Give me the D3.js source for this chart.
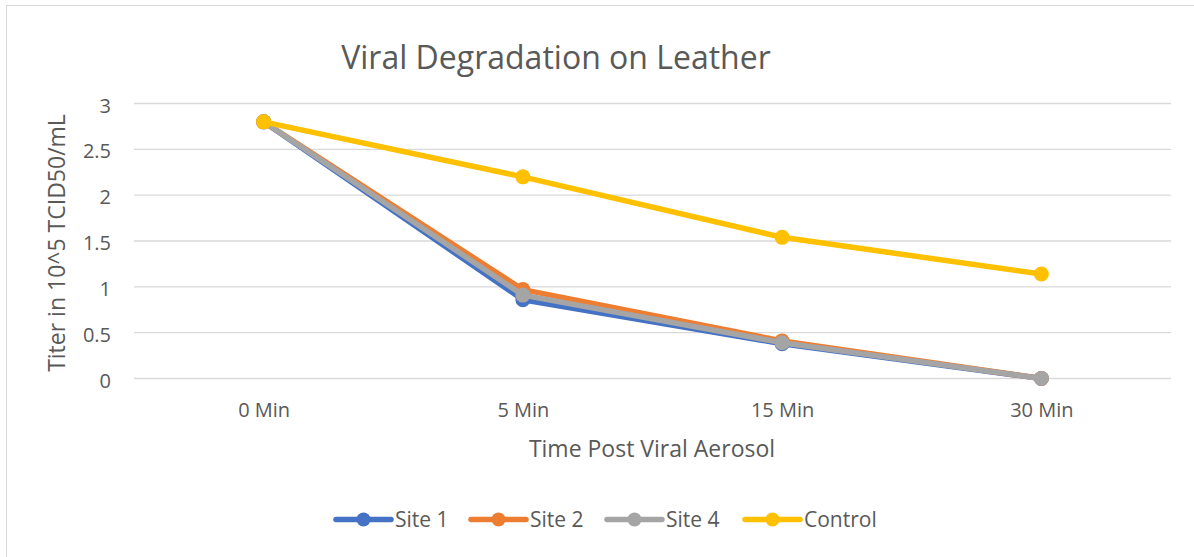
<!DOCTYPE html>
<html>
<head>
<meta charset="utf-8">
<script src="https://cdn.jsdelivr.net/npm/d3@7"></script>
<style>
  body { margin: 0; background: #fff; }
  svg { display: block; font-family: "Open Sans", "Noto Sans", sans-serif; }
</style>
</head>
<body>
<svg width="1194" height="557"></svg>
<script>
// chart data
const categories = ["0 Min", "5 Min", "15 Min", "30 Min"];
const seriesNames = ["Site 1", "Site 2", "Site 4", "Control"];
const site1 = [2.8, 0.86, 0.38, 0];
const site2 = [2.8, 0.97, 0.41, 0];
const site4 = [2.8, 0.91, 0.39, 0];
const control = [2.8, 2.2, 1.54, 1.14];
const yTicks = [0, 0.5, 1, 1.5, 2, 2.5, 3];
const colors = ["#4472c4", "#ed7d31", "#a5a5a5", "#ffc000"];

const svg = d3.select("svg");
const textColor = "#595959";
const fontFamily = '"Open Sans", "Noto Sans", sans-serif';

// plot area
const plotLeft = 134, plotRight = 1171, plotTop = 103.5, plotBottom = 378.5;

// outer border (only left/top visible in the reference)
svg.append("rect")
    .attr("x", 6.5).attr("y", 5.5)
    .attr("width", 1200).attr("height", 600)
    .attr("fill", "none")
    .attr("stroke", "#d9d9d9");

const xScale = d3.scalePoint()
    .domain(categories)
    .range([plotLeft, plotRight])
    .padding(0.5);

const yScale = d3.scaleLinear()
    .domain([0, 3])
    .range([plotBottom, plotTop]);

// gridlines
svg.append("g")
    .selectAll("line")
    .data(yTicks)
    .enter()
    .append("line")
        .attr("x1", plotLeft).attr("x2", plotRight)
        .attr("y1", d => yScale(d)).attr("y2", d => yScale(d))
        .attr("stroke", "#d9d9d9")
        .attr("stroke-width", 1.3);

// y axis labels (right aligned at x=110)
const yAxis = d3.axisLeft(yScale).tickValues(yTicks).tickSize(0).tickPadding(0).tickFormat(d => d + "");
svg.append("g")
    .attr("transform", "translate(111,1.5)")
    .call(yAxis)
    .attr("font-family", fontFamily)
    .call(g => g.select(".domain").remove())
    .selectAll("text")
        .attr("fill", textColor)
        .style("font-size", "20px")
        .attr("dy", "0.35em");

// x axis labels
const xAxis = d3.axisBottom(xScale).tickSize(0).tickPadding(0);
svg.append("g")
    .attr("transform", "translate(0,409.5)")
    .call(xAxis)
    .attr("font-family", fontFamily)
    .call(g => g.select(".domain").remove())
    .selectAll("text")
        .attr("fill", textColor)
        .style("font-size", "20px")
        .attr("dy", "0.35em");

// title
svg.append("text")
    .attr("x", 556).attr("y", 69)
    .attr("text-anchor", "middle")
    .attr("fill", textColor)
    .style("font-size", "32px")
    .text("Viral Degradation on Leather");

// axis titles
svg.append("text")
    .attr("x", 652).attr("y", 457)
    .attr("text-anchor", "middle")
    .attr("fill", textColor)
    .style("font-size", "23px")
    .text("Time Post Viral Aerosol");

svg.append("text")
    .attr("transform", "translate(65,243) rotate(-90)")
    .attr("text-anchor", "middle")
    .attr("fill", textColor)
    .style("font-size", "23px")
    .text("Titer in 10^5 TCID50/mL");

// series
const allSeries = [site1, site2, site4, control];
const line = d3.line()
    .x((d, i) => xScale(categories[i]))
    .y(d => yScale(d));

allSeries.forEach((vals, s) => {
    const g = svg.append("g");
    g.append("path")
        .datum(vals)
        .attr("d", line)
        .attr("fill", "none")
        .attr("stroke", colors[s])
        .attr("stroke-width", 5.5)
        .attr("stroke-linejoin", "round")
        .attr("stroke-linecap", "round");
    g.selectAll("circle")
        .data(vals)
        .enter()
        .append("circle")
            .attr("cx", (d, i) => xScale(categories[i]))
            .attr("cy", d => yScale(d))
            .attr("r", 7.5)
            .attr("fill", colors[s]);
});

// legend
const legendX = [336, 471, 607, 745];
seriesNames.forEach((name, s) => {
    const g = svg.append("g").attr("transform", `translate(${legendX[s]},519.5)`);
    g.append("line")
        .attr("x1", 0).attr("x2", 55)
        .attr("stroke", colors[s])
        .attr("stroke-width", 5.5)
        .attr("stroke-linecap", "round");
    g.append("circle").attr("cx", 27.5).attr("r", 7).attr("fill", colors[s]);
    g.append("text")
        .attr("x", 59).attr("dy", "0.35em")
        .attr("fill", textColor)
        .style("font-size", "21px")
        .text(name);
});
</script>
</body>
</html>
